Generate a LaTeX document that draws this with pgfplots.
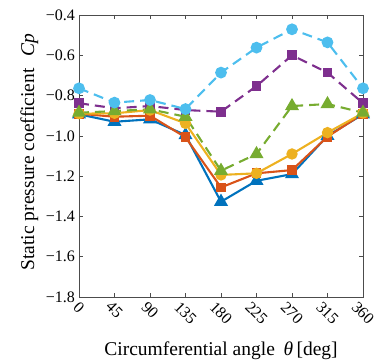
\documentclass[border=0pt]{standalone}
\usepackage{fontspec}
\setmainfont{Liberation Serif}
\usepackage{graphicx}
\usepackage{pgfplots}
\pgfplotsset{compat=1.18}
\definecolor{mblue}{rgb}{0,0.447,0.741}
\definecolor{mred}{rgb}{0.85,0.325,0.098}
\definecolor{morange}{rgb}{0.929,0.694,0.125}
\definecolor{mpurple}{rgb}{0.494,0.184,0.556}
\definecolor{mgreen}{rgb}{0.466,0.674,0.188}
\definecolor{mcyan}{rgb}{0.301,0.745,0.933}
\newcommand\rl[1]{\rotatebox{-45}{\fontsize{16}{18}\selectfont #1}}
\begin{document}
\begin{tikzpicture}
\begin{axis}[
  name=ax,
  scale only axis,
  width=284pt, height=282pt,
  xmin=0, xmax=360, ymin=-1.8, ymax=-0.4,
  xtick={0,45,...,360},
  xticklabels={\rl{0},\rl{45},\rl{90},\rl{135},\rl{180},\rl{225},\rl{270},\rl{315},\rl{360}},
  ytick={-1.8,-1.6,...,-0.4},
  yticklabels={−1.8,−1.6,−1.4,−1.2,−1.0,−0.8,−0.6,−0.4},
  tick align=inside,
  major tick length=4pt,
  axis line style={black!70, line width=0.9pt},
  every tick/.style={black!70, line width=0.7pt},
  y tick label style={font=\fontsize{16}{18}\selectfont, xshift=-0.5pt},
  x tick label style={anchor=north, yshift=0pt},
  xlabel={Circumferential angle\hspace{0.45em}\textit{θ}\,[deg]},
  ylabel={Static pressure coefficient\hspace{0.6em}\textit{Cp}},
  label style={font=\fontsize{19.5}{22}\selectfont},
  xlabel style={at={(axis description cs:0.5,0)}, anchor=base, yshift=-58pt},
  ylabel style={at={(axis description cs:-0.158,0.514)}, anchor=base, rotate=0},
  every axis plot/.append style={line width=2.1pt},
]
\addplot[mblue, mark=triangle*, mark size=6pt] coordinates {(0,-0.893) (45,-0.93) (90,-0.918) (135,-0.996) (180,-1.327) (225,-1.223) (270,-1.19) (315,-1.0) (360,-0.893)};
\addplot[mred, mark=square*, mark size=3.8pt] coordinates {(0,-0.89) (45,-0.905) (90,-0.9) (135,-1.007) (180,-1.256) (225,-1.186) (270,-1.17) (315,-1.004) (360,-0.89)};
\addplot[morange, mark=*, mark size=4.6pt] coordinates {(0,-0.89) (45,-0.888) (90,-0.872) (135,-0.938) (180,-1.194) (225,-1.186) (270,-1.09) (315,-0.984) (360,-0.887)};
\addplot[mpurple, mark=square*, mark size=3.8pt, dash pattern=on 10pt off 6pt, mark options={solid}] coordinates {(0,-0.838) (45,-0.863) (90,-0.852) (135,-0.872) (180,-0.88) (225,-0.753) (270,-0.6) (315,-0.686) (360,-0.838)};
\addplot[mgreen, mark=triangle*, mark size=6pt, dash pattern=on 10pt off 6pt, mark options={solid}] coordinates {(0,-0.885) (45,-0.877) (90,-0.868) (135,-0.905) (180,-1.173) (225,-1.09) (270,-0.852) (315,-0.842) (360,-0.885)};
\addplot[mcyan, mark=*, mark size=4.8pt, dash pattern=on 10pt off 6pt, mark options={solid}] coordinates {(0,-0.764) (45,-0.835) (90,-0.822) (135,-0.867) (180,-0.686) (225,-0.562) (270,-0.471) (315,-0.536) (360,-0.764)};
\end{axis}
\pgfresetboundingbox
\path ([shift={(-79pt,-66pt)}]ax.south west) rectangle ([shift={(13pt,15pt)}]ax.north east);
\end{tikzpicture}
\end{document}
